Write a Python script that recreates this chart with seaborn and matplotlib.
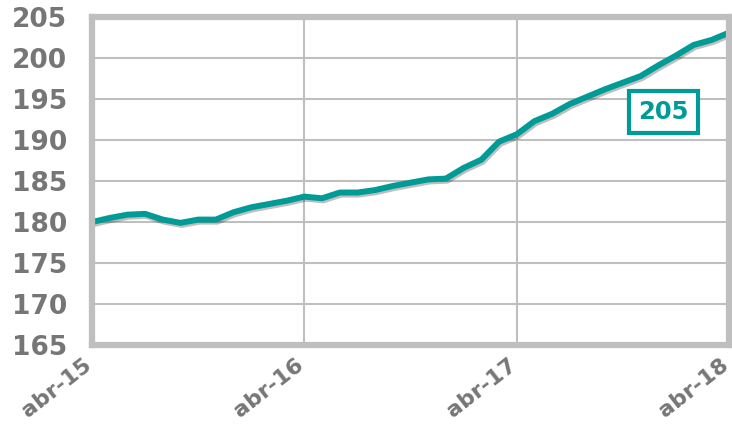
import numpy as np
import pandas as pd
import matplotlib
matplotlib.use("Agg")
import matplotlib.pyplot as plt
import matplotlib.patheffects as pe
import matplotlib.transforms as mtransforms
import seaborn as sns

# monthly values, abr-15 .. abr-18
values = [180.0, 180.5, 180.9, 181.0, 180.3, 179.9, 180.3, 180.3, 181.2, 181.8,
          182.2, 182.6, 183.1, 182.9, 183.6, 183.6, 183.9, 184.4, 184.8, 185.2,
          185.3, 186.6, 187.6, 189.8, 190.7, 192.3, 193.2, 194.4, 195.3, 196.2,
          197.0, 197.8, 199.1, 200.3, 201.6, 202.2, 203.1]
months = list(range(len(values)))
tick_pos = [0, 12, 24, 36]
tick_labels = ["abr-15", "abr-16", "abr-17", "abr-18"]
yticks = [165, 170, 175, 180, 185, 190, 195, 200, 205]
label_value = "205"

df = pd.DataFrame({"month": months, "value": values})

sns.set_theme(style="white")
plt.rcParams["font.family"] = ["DejaVu Sans"]

teal = "#009B96"
grey = "#BFBFBF"
txt = "#767676"

fig = plt.figure(figsize=(7.32, 4.26), dpi=100)
ax = fig.add_axes([0.1257, 0.19, 0.8703, 0.77])

sns.lineplot(data=df, x="month", y="value", ax=ax, color=teal, linewidth=4.3,
             path_effects=[pe.SimpleLineShadow(offset=(1, -1.5), alpha=0.25,
                                               shadow_color="black"),
                           pe.Normal()])

ax.set_xlim(0, 36)
ax.set_ylim(165, 205)
ax.set_xticks(tick_pos)
ax.set_xticklabels(tick_labels, rotation=38, ha="right", va="center",
                   rotation_mode="anchor")
ax.set_yticks(yticks)
ax.grid(True, color=grey, linewidth=1.5)
ax.set_axisbelow(True)
for s in ax.spines.values():
    s.set_visible(True)
    s.set_color(grey)
    s.set_linewidth(4.5)
ax.tick_params(axis="y", length=0, labelsize=19, labelcolor=txt, pad=18)
ax.tick_params(axis="x", length=0, labelsize=16, labelcolor=txt, pad=13)
shift = mtransforms.ScaledTranslation(-3 / 100, 0, fig.dpi_scale_trans)
for t in ax.get_xticklabels():
    t.set_fontweight("bold")
    t.set_transform(t.get_transform() + shift)
for t in ax.get_yticklabels():
    t.set_fontweight("bold")
ax.set_xlabel("")
ax.set_ylabel("")

ax.text(32.3, 193.4, label_value, color=teal, fontsize=17.5, fontweight="bold",
        ha="center", va="center",
        bbox=dict(boxstyle="square,pad=0.38", facecolor="white", edgecolor=teal,
                  linewidth=3))

fig.savefig("out.png", dpi=100)
